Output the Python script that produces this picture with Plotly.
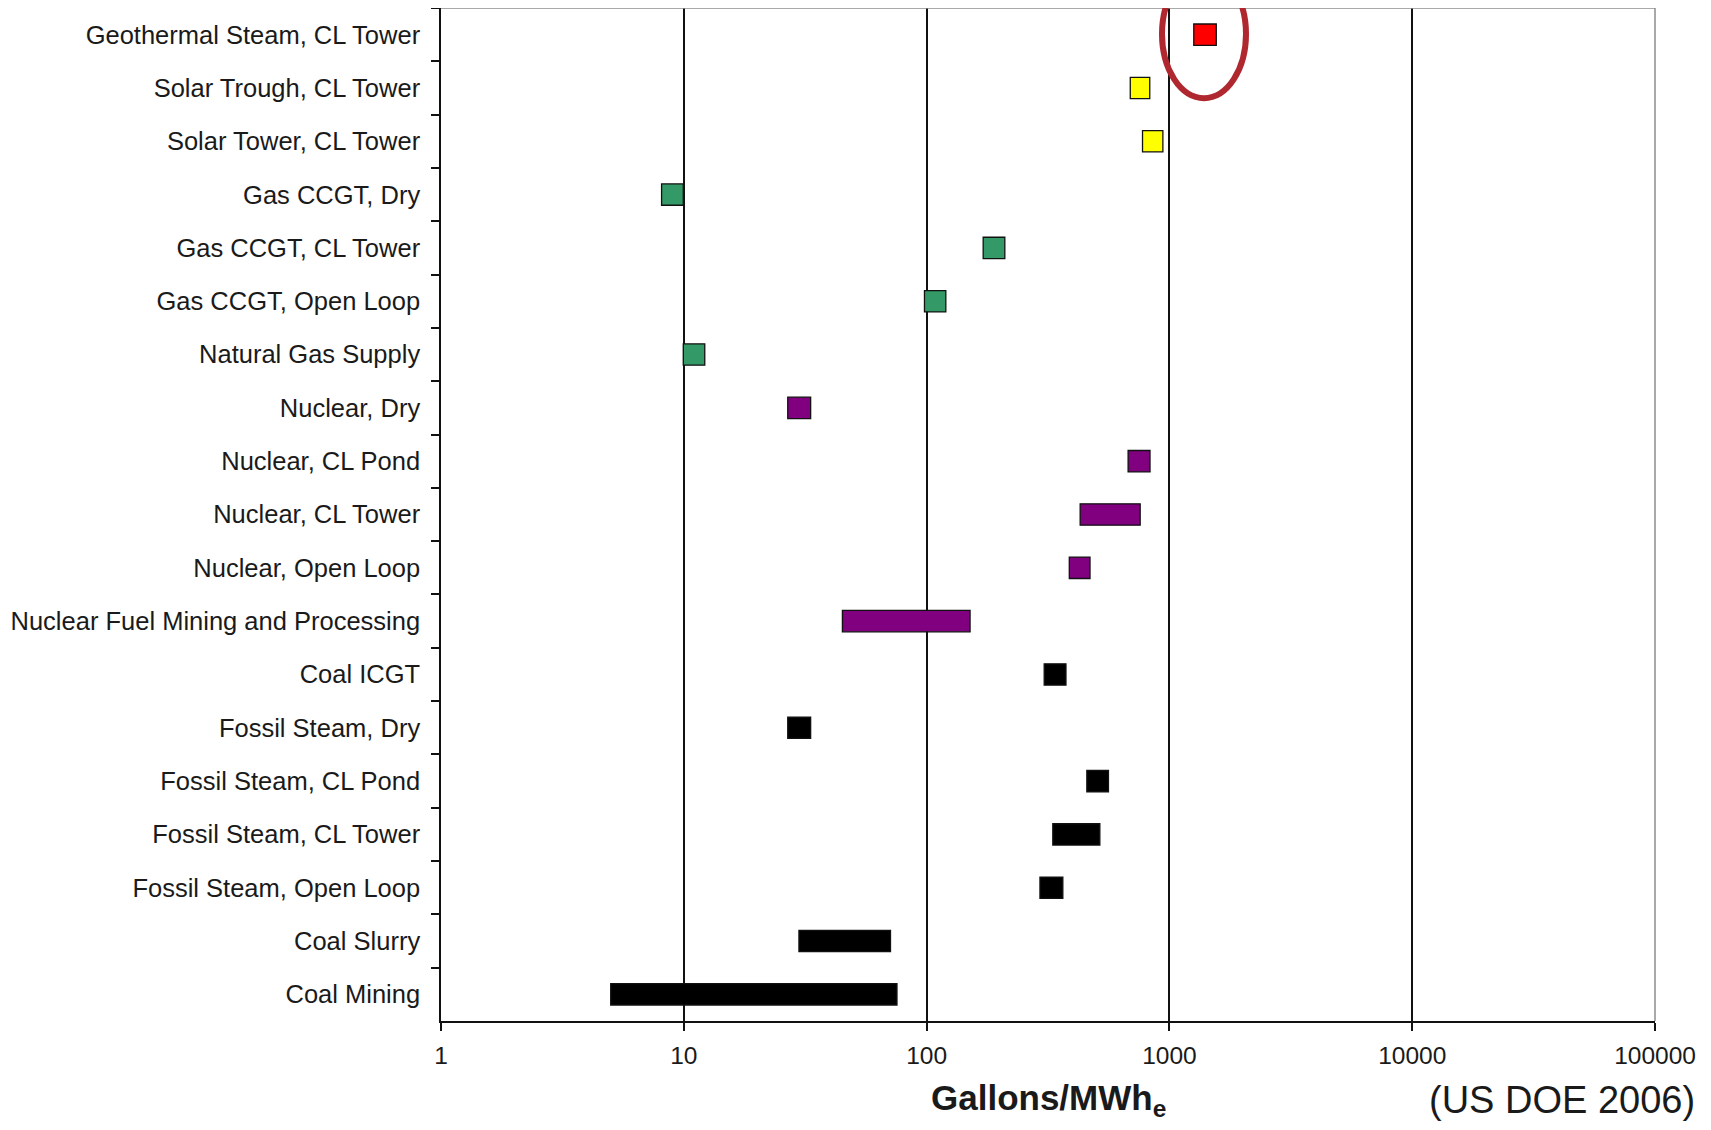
import plotly.graph_objects as go

categories = [
    "Geothermal Steam, CL Tower",
    "Solar Trough, CL Tower",
    "Solar Tower, CL Tower",
    "Gas CCGT, Dry",
    "Gas CCGT, CL Tower",
    "Gas CCGT, Open Loop",
    "Natural Gas Supply",
    "Nuclear, Dry",
    "Nuclear, CL Pond",
    "Nuclear, CL Tower",
    "Nuclear, Open Loop",
    "Nuclear Fuel Mining and Processing",
    "Coal ICGT",
    "Fossil Steam, Dry",
    "Fossil Steam, CL Pond",
    "Fossil Steam, CL Tower",
    "Fossil Steam, Open Loop",
    "Coal Slurry",
    "Coal Mining",
]
low_values = [1260, 690, 775, 8.1, 171, 98, 9.95, 26.8, 676, 429, 387, 45, 305, 26.8, 457, 331, 293, 29.8, 5.0]
high_values = [1560, 830, 940, 9.95, 210, 120, 12.2, 33.3, 832, 758, 471, 151, 375, 33.3, 561, 517, 364, 71, 75.5]
bar_colors = ["#FF0000", "#FFFF00", "#FFFF00", "#339966", "#339966", "#339966", "#339966",
              "#800080", "#800080", "#800080", "#800080", "#800080",
              "#000000", "#000000", "#000000", "#000000", "#000000", "#000000", "#000000"]

tick_vals = [1, 10, 100, 1000, 10000, 100000]
tick_text = ["1", "10", "100", "1000", "10000", "100000"]

x_title = "<b>Gallons/MWh<sub>e</sub></b>"
source_note = "(US DOE 2006)"

lengths = [h - l for l, h in zip(low_values, high_values)]

fig = go.Figure()
fig.add_trace(go.Bar(
    y=categories,
    x=lengths,
    base=low_values,
    orientation="h",
    width=0.4,
    marker=dict(color=bar_colors, line=dict(color="#111111", width=1.3)),
    showlegend=False,
))

fig.update_layout(
    width=1695,
    height=1114,
    margin=dict(l=433, r=48, t=0, b=101),
    paper_bgcolor="white",
    plot_bgcolor="white",
    font=dict(family="Liberation Sans, Arial, sans-serif", color="#1a1a1a"),
    xaxis=dict(
        type="log",
        range=[0, 5],
        tickvals=tick_vals,
        ticktext=tick_text,
        tickfont=dict(size=24.5, color="#1a1a1a"),
        ticks="outside",
        ticklen=8,
        tickcolor="#111111",
        tickwidth=1.5,
        showgrid=True,
        gridcolor="#111111",
        gridwidth=1.5,
        showline=True,
        linecolor="#111111",
        linewidth=1.5,
        zeroline=False,
        ticklabelstandoff=4,
    ),
    yaxis=dict(
        type="category",
        autorange="reversed",
        tickfont=dict(size=25.5, color="#1a1a1a"),
        ticks="outside",
        tickson="boundaries",
        ticklen=8,
        tickcolor="#111111",
        tickwidth=1.5,
        showgrid=False,
        showline=True,
        linecolor="#111111",
        linewidth=1.5,
        ticklabelstandoff=14,
    ),
    shapes=[
        dict(type="line", xref="paper", yref="paper", x0=0, x1=1, y0=1, y1=1,
             line=dict(color="#8c8c8c", width=1.5)),
        dict(type="line", xref="paper", yref="paper", x0=1, x1=1, y0=0, y1=1,
             line=dict(color="#8c8c8c", width=1.5)),
        dict(type="circle", xref="paper", yref="paper",
             x0=0.5939, x1=0.6631, y0=0.911, y1=1.0375,
             line=dict(color="#B0282F", width=6)),
    ],
    annotations=[
        dict(text=x_title, xref="paper", yref="paper",
             x=0.5, y=-0.0775, xanchor="center", yanchor="middle",
             showarrow=False, font=dict(size=35, color="#1a1a1a")),
        dict(text=source_note, xref="paper", yref="paper",
             x=1.0346, y=-0.078, xanchor="right", yanchor="middle",
             showarrow=False, font=dict(size=38, color="#1a1a1a")),
    ],
)

fig.write_html("out.html")
